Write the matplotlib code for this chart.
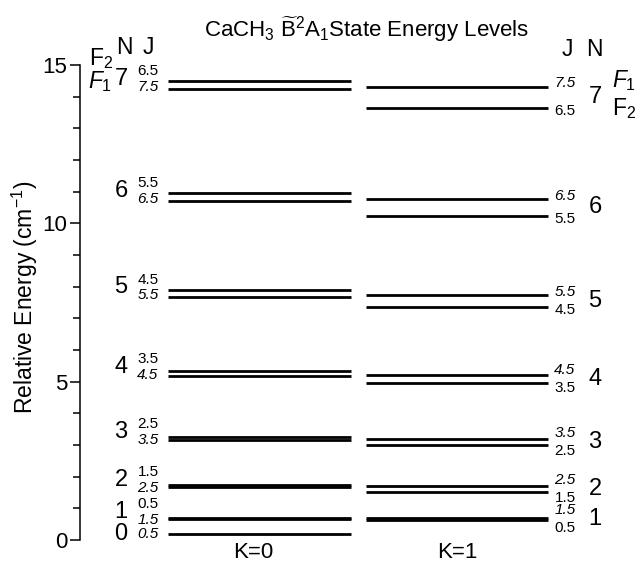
import numpy as np
import matplotlib
matplotlib.use('Agg')
import matplotlib.pyplot as plt

plt.rcParams['font.family'] = ['Liberation Sans', 'DejaVu Sans']
plt.rcParams['mathtext.fontset'] = 'custom'
plt.rcParams['mathtext.rm'] = 'Liberation Sans'
plt.rcParams['mathtext.it'] = 'Liberation Sans:italic'
plt.rcParams['mathtext.bf'] = 'Liberation Sans:bold'

# rotational quantum number N
N = [0, 1, 2, 3, 4, 5, 6, 7]

# K=0 stack: F1 (J = N + 1/2) and F2 (J = N - 1/2), cm^-1
k0_f1 = [0.18, 0.665, 1.675, 3.16, 5.18, 7.68, 10.71, 14.24]
k0_f2 = [np.nan, 0.705, 1.735, 3.26, 5.35, 7.89, 10.95, 14.51]

# K=1 stack (no N=0 level)
k1_f1 = [np.nan, 0.69, 1.70, 3.19, 5.21, 7.74, 10.77, 14.32]
k1_f2 = [np.nan, 0.62, 1.52, 3.00, 4.97, 7.37, 10.24, 13.65]

stack_labels = ['K=0', 'K=1']

W, H = 635, 565
fig = plt.figure(figsize=(W / 100, H / 100), dpi=100)
# axes x data == figure pixels, y data == energy
ax = fig.add_axes([80 / W, 25 / H, (W - 80) / W, 475 / H])
ax.set_xlim(80, W)
ax.set_ylim(0, 15)


def px(x, y):
    # figure pixel (from top-left) -> figure fraction
    return x / W, 1 - y / H


lw = 2.0
ax.hlines(k0_f1, 168, 351, color='k', lw=lw)
ax.hlines([e for e in k0_f2 if not np.isnan(e)], 168, 351, color='k', lw=lw)
ax.hlines([e for e in k1_f1 if not np.isnan(e)], 366, 548, color='k', lw=lw)
ax.hlines([e for e in k1_f2 if not np.isnan(e)], 366, 548, color='k', lw=lw)

jfs = 11
nfs = 17

# left labels (K=0)
for n, e1, e2 in zip(N, k0_f1, k0_f2):
    if np.isnan(e2):
        ax.text(148, e1, f'{n + 0.5:.1f}', fontsize=jfs, style='italic',
                ha='center', va='center')
        ax.text(121, e1, str(n), fontsize=nfs, ha='center', va='center')
        continue
    mid = (e1 + e2) / 2 + 0.19
    ax.text(148, mid + 0.25, f'{n - 0.5:.1f}', fontsize=jfs,
            ha='center', va='center')
    ax.text(148, mid - 0.25, f'{n + 0.5:.1f}', fontsize=jfs, style='italic',
            ha='center', va='center')
    ax.text(121, mid, str(n), fontsize=nfs, ha='center', va='center')

# right labels (K=1)
for n, e1, e2 in zip(N, k1_f1, k1_f2):
    if np.isnan(e1):
        continue
    mid = (e1 + e2) / 2
    d = max(0.28, (e1 - e2) / 2 + 0.1)
    ax.text(565, mid + d, f'{n + 0.5:.1f}', fontsize=jfs, style='italic',
            ha='center', va='center')
    ax.text(565, mid - d, f'{n - 0.5:.1f}', fontsize=jfs,
            ha='center', va='center')
    ax.text(595, mid, str(n), fontsize=nfs, ha='center', va='center')

# column headers
hfs = 16.5
fig.text(*px(124, 47), 'N', fontsize=hfs, ha='center', va='center')
fig.text(*px(148, 47), 'J', fontsize=hfs, ha='center', va='center')
fig.text(*px(89, 65), r'F$_2$', fontsize=hfs, ha='left', va='baseline')
fig.text(*px(88, 88), r'$\mathit{F}_{\mathit{1}}$', fontsize=hfs,
         ha='left', va='baseline')
fig.text(*px(567, 50), 'J', fontsize=hfs, ha='center', va='center')
fig.text(*px(594, 50), 'N', fontsize=hfs, ha='center', va='center')
fig.text(*px(612, 87), r'$\mathit{F}_{\mathit{1}}$', fontsize=hfs,
         ha='left', va='baseline')
fig.text(*px(612, 115), r'F$_2$', fontsize=hfs, ha='left', va='baseline')

# stack labels
fig.text(*px(253, 558), stack_labels[0], fontsize=16, ha='center', va='baseline')
fig.text(*px(457, 558), stack_labels[1], fontsize=16, ha='center', va='baseline')

fig.text(*px(367, 30),
         r'CaCH$_3$ $\widetilde{\mathrm{B}}^2$A$_1$State Energy Levels',
         fontsize=16, ha='center', va='center')
fig.text(*px(25, 297), r'Relative Energy (cm$^{-1}$)', fontsize=16.5,
         rotation=90, ha='center', va='center')

for s in ['top', 'right', 'bottom']:
    ax.spines[s].set_visible(False)
ax.spines['left'].set_bounds(0, 15)
ax.spines['left'].set_linewidth(1.1)
ax.set_xticks([])
ax.set_yticks([0, 5, 10, 15])
ax.set_yticks(np.arange(0, 16, 1), minor=True)
ax.tick_params(axis='y', which='major', direction='out', length=7, width=1.1,
               labelsize=16, pad=2)
ax.tick_params(axis='y', which='minor', direction='out', length=5, width=1.1)

fig.savefig('out.png', dpi=100)
